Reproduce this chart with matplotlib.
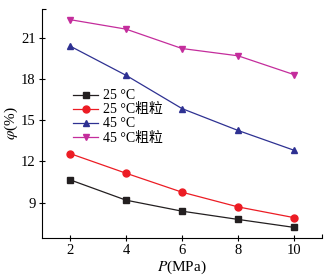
import matplotlib.pyplot as plt
from matplotlib.ticker import FixedLocator

plt.rcParams['font.family'] = ['Liberation Serif', 'Noto Sans CJK SC']
plt.rcParams['mathtext.fontset'] = 'stix'

# pressure (MPa)
p = [2, 4, 6, 8, 10]

# porosity phi (%)
phi_25 = [10.65, 9.17, 8.37, 7.77, 7.19]
phi_25_coarse = [12.56, 11.13, 9.75, 8.68, 7.90]
phi_45 = [20.38, 18.25, 15.83, 14.24, 12.80]
phi_45_coarse = [22.30, 21.61, 20.20, 19.67, 18.30]

labels = ['25 °C', '25 °C粗粒', '45 °C', '45 °C粗粒']

fig = plt.figure(figsize=(3.31, 2.79), dpi=100)
ax = fig.add_axes([0.127, 0.148, 0.846, 0.820])

ax.plot(p, phi_25, color='#231f20', marker='s', ms=4.5, lw=0.9, label=labels[0])
ax.plot(p, phi_25_coarse, color='#ec1c24', marker='o', ms=5, lw=0.9, label=labels[1])
ax.plot(p, phi_45, color='#2e3192', marker='^', ms=5, lw=0.9, label=labels[2])
ax.plot(p, phi_45_coarse, color='#c42d9c', marker='v', ms=5, lw=0.9, label=labels[3])

ax.set_xlim(1, 11)
ax.set_ylim(6.44, 23.08)
ax.set_xticks([2, 4, 6, 8, 10])
ax.set_yticks([9, 12, 15, 18, 21])
ax.xaxis.set_minor_locator(FixedLocator([11]))
ax.yaxis.set_minor_locator(FixedLocator([23.08]))
ax.tick_params(axis='both', which='major', direction='inout', length=5, width=0.8, labelsize=10.5, pad=2)
ax.tick_params(axis='both', which='minor', direction='in', length=3, width=0.8)

for s in ['top', 'right']:
    ax.spines[s].set_visible(False)
for s in ['left', 'bottom']:
    ax.spines[s].set_linewidth(0.8)

ax.set_xlabel(r'$P$(MPa)', fontsize=11, labelpad=1)
ax.set_ylabel(r'$\varphi$(%)', fontsize=11, labelpad=1)

ax.legend(loc='upper left', bbox_to_anchor=(0.112, 0.648), frameon=False, fontsize=10,
          handlelength=1.8, handletextpad=0.3, labelspacing=0.07, borderaxespad=0,
          borderpad=0)

fig.savefig('out.png', dpi=100)
